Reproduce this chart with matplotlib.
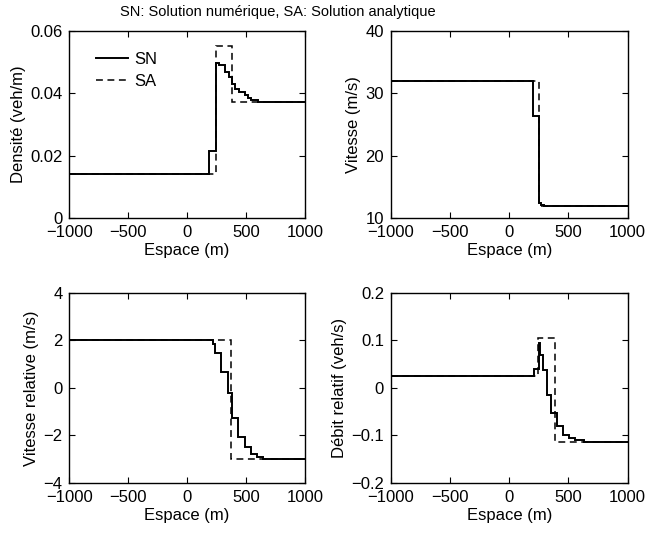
import matplotlib
matplotlib.use('Agg')
import matplotlib.pyplot as plt

# Axe des x commun
x_ticks = [-1000, -500, 0, 500, 1000]

# Densité (veh/m)
rho_sn_edges = [-1000, 188, 244, 273, 321, 358, 378, 406, 443, 491, 519, 547, 604, 1000]
rho_sn = [0.014, 0.0216, 0.0498, 0.049, 0.0469, 0.0451, 0.0431, 0.0415, 0.0404, 0.0394, 0.0385, 0.0378, 0.0372]
rho_sa_edges = [-1000, 245, 378, 1000]
rho_sa = [0.014, 0.0553, 0.0372]

# Vitesse (m/s)
v_sn_edges = [-1000, 201, 249, 270, 290, 1000]
v_sn = [32.0, 26.4, 12.4, 12.1, 11.9]
v_sa_edges = [-1000, 249, 1000]
v_sa = [32.0, 11.9]

# Vitesse relative (m/s)
w_sn_edges = [-1000, 222, 240, 287, 344, 378, 434, 491, 542, 590, 646, 1000]
w_sn = [2.0, 1.85, 1.46, 0.69, -0.22, -1.28, -2.05, -2.47, -2.78, -2.92, -3.0]
w_sa_edges = [-1000, 372, 1000]
w_sa = [2.0, -3.0]

# Débit relatif (veh/s)
q_sn_edges = [-1000, 206, 249, 256, 286, 320, 357, 405, 456, 504, 560, 631, 1000]
q_sn = [0.025, 0.039, 0.094, 0.069, 0.038, -0.015, -0.053, -0.081, -0.099, -0.106, -0.110, -0.113]
q_sa_edges = [-1000, 245, 390, 1000]
q_sa = [0.025, 0.105, -0.113]

plt.rcParams['font.family'] = ['Liberation Sans', 'DejaVu Sans']
plt.rcParams['font.size'] = 12

fig = plt.figure(figsize=(6.48, 5.34), dpi=100)

panels = [
    ([0.107, 0.592, 0.3634, 0.350], rho_sn_edges, rho_sn, rho_sa_edges, rho_sa,
     (0, 0.06), [0, 0.02, 0.04, 0.06], ['0', '0.02', '0.04', '0.06'], 'Densité (veh/m)'),
    ([0.6034, 0.592, 0.365, 0.350], v_sn_edges, v_sn, v_sa_edges, v_sa,
     (10, 40), [10, 20, 30, 40], ['10', '20', '30', '40'], 'Vitesse (m/s)'),
    ([0.107, 0.0955, 0.3634, 0.356], w_sn_edges, w_sn, w_sa_edges, w_sa,
     (-4, 4), [-4, -2, 0, 2, 4], ['\u22124', '\u22122', '0', '2', '4'], 'Vitesse relative (m/s)'),
    ([0.6034, 0.0955, 0.365, 0.356], q_sn_edges, q_sn, q_sa_edges, q_sa,
     (-0.2, 0.2), [-0.2, -0.1, 0, 0.1, 0.2], ['\u22120.2', '\u22120.1', '0', '0.1', '0.2'], 'Débit relatif (veh/s)'),
]

axes = []
for rect, sn_e, sn, sa_e, sa, ylim, yt, ytl, ylab in panels:
    ax = fig.add_axes(rect)
    ax.stairs(sn, sn_e, color='black', lw=1.4, baseline=None, label='SN')
    ax.stairs(sa, sa_e, color='black', lw=1.1, linestyle=(0, (4.5, 3)), baseline=None, label='SA')
    ax.set_xlim(-1000, 1000)
    ax.set_ylim(*ylim)
    ax.set_xticks(x_ticks)
    ax.set_xticklabels(['\u22121000', '\u2212500', '0', '500', '1000'])
    ax.set_yticks(yt)
    ax.set_yticklabels(ytl)
    ax.tick_params(direction='in', top=True, right=True, length=4, width=0.8, pad=5)
    for s in ax.spines.values():
        s.set_linewidth(1.0)
    ax.set_xlabel('Espace (m)', labelpad=2)
    ax.set_ylabel(ylab, labelpad=3)
    axes.append(ax)

axes[0].legend(loc='upper left', bbox_to_anchor=(0.05, 0.97), frameon=False,
               handlelength=1.9, handletextpad=0.4, labelspacing=0.45)

fig.text(0.428, 0.977, 'SN: Solution numérique, SA: Solution analytique',
         ha='center', va='center', fontsize=10.5)

fig.savefig('out.png', dpi=100)
